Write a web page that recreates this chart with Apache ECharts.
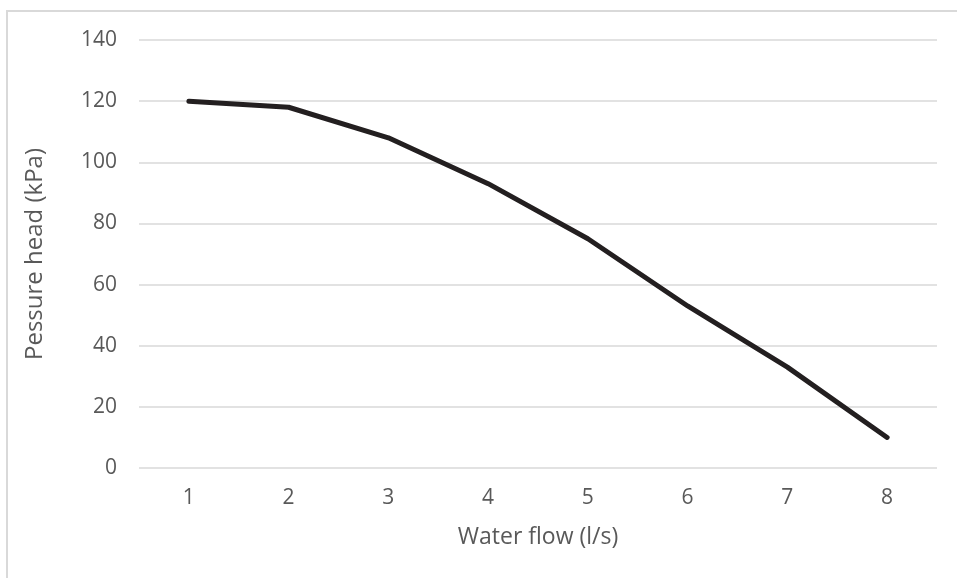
<!DOCTYPE html>
<html><head><meta charset="utf-8">
<script src="https://cdn.jsdelivr.net/npm/echarts@6/dist/echarts.min.js"></script>
<style>html,body{margin:0;padding:0;background:#fff}#c{width:957px;height:578px}
#b{position:absolute;left:6px;top:10px;width:960px;height:580px;border:2px solid #d9d9d9;box-sizing:border-box;pointer-events:none}</style>
</head><body><div id="c"></div><div id="b"></div>
<script>
const categories = ['1','2','3','4','5','6','7','8'];
const pressure = [120, 118, 108, 93, 75, 53, 33, 10];
const yTicks = {min: 0, max: 140, interval: 20};
const xTitle = 'Water flow (l/s)';
const yTitle = 'Pessure head (kPa)';
const font = '"Open Sans", "Liberation Sans", sans-serif';
const chart = echarts.init(document.getElementById('c'));
chart.setOption({
  animation: false,
  grid: {left: 139, right: 20, top: 40, bottom: 110},
  xAxis: {
    type: 'category', data: categories, boundaryGap: true,
    name: xTitle, nameLocation: 'middle', nameGap: 58,
    nameTextStyle: {color: '#595959', fontSize: 23, fontFamily: font},
    axisLine: {show: false}, axisTick: {show: false},
    axisLabel: {color: '#595959', fontSize: 21, fontFamily: font, margin: 20}
  },
  yAxis: {
    type: 'value', min: yTicks.min, max: yTicks.max, interval: yTicks.interval,
    name: yTitle, nameLocation: 'middle', nameGap: 92,
    nameTextStyle: {color: '#595959', fontSize: 24, fontFamily: font},
    axisLine: {show: false}, axisTick: {show: false},
    axisLabel: {color: '#595959', fontSize: 21, fontFamily: font, margin: 22},
    splitLine: {lineStyle: {color: '#d9d9d9', width: 1.5}}
  },
  series: [{
    type: 'line', data: pressure, symbol: 'none',
    lineStyle: {color: '#231f20', width: 5, cap: 'round', join: 'round'}
  }]
});
</script></body></html>
